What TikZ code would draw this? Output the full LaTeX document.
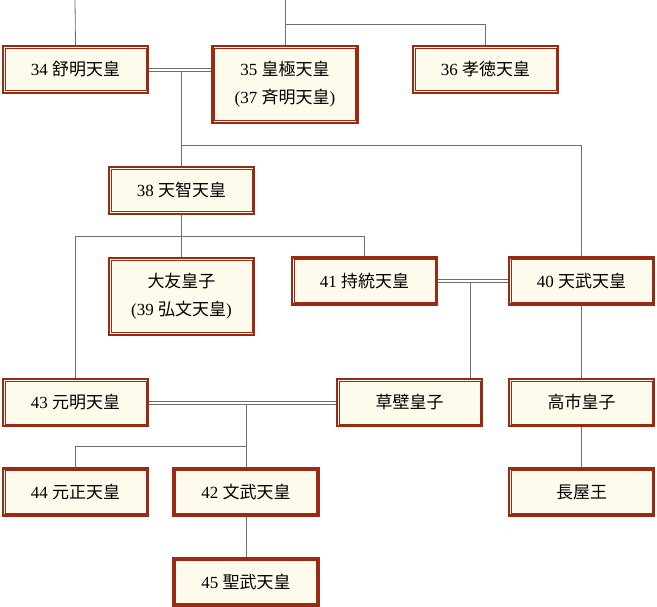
\documentclass[tikz,border=0pt]{standalone}
\usepackage{fontspec}
\setmainfont{Liberation Serif}
\newfontfamily\cjk{Noto Sans CJK JP}
\definecolor{bord}{HTML}{9B2A12}
\definecolor{cream}{HTML}{FFFBEC}
\definecolor{ln}{HTML}{6E6E6E}
\begin{document}
\begin{tikzpicture}[x=1pt,y=-1pt,
  emp/.style={draw=bord,line width=2.4pt,fill=cream,minimum width=145pt,minimum height=47pt,inner sep=0pt,align=center,font=\fontsize{17pt}{28pt}\selectfont},
  tall/.style={minimum height=77pt},
  inner/.style={draw=bord,line width=0.8pt},
  lk/.style={draw=ln,line width=0.8pt}]
\useasboundingbox (0,0) rectangle (657,607);
\coordinate (t1) at (75,0); \coordinate (t2) at (285,0);
\node[emp] (a34) at (75.5,69.5) {34 {\cjk 舒明天皇}};
\node[emp,tall] (a35) at (285,84.5) {35 {\cjk 皇極天皇}\\({37} {\cjk 斉明天皇})};
\node[emp] (a36) at (485.5,69.5) {36 {\cjk 孝徳天皇}};
\node[emp] (a38) at (181.5,190.5) {38 {\cjk 天智天皇}};
\node[emp,tall] (ot) at (181.5,296.5) {{\cjk 大友皇子}\\(39 {\cjk 弘文天皇})};
\node[emp] (a41) at (364.5,281) {41 {\cjk 持統天皇}};
\node[emp] (a40) at (581.5,281) {40 {\cjk 天武天皇}};
\node[emp] (a43) at (75.5,402.5) {43 {\cjk 元明天皇}};
\node[emp] (ku) at (409.5,402.5) {{\cjk 草壁皇子}};
\node[emp] (ta) at (581.5,402.5) {{\cjk 高市皇子}};
\node[emp] (a44) at (75.5,492) {44 {\cjk 元正天皇}};
\node[emp] (a42) at (246,492) {42 {\cjk 文武天皇}};
\node[emp] (na) at (581.5,492) {{\cjk 長屋王}};
\node[emp] (a45) at (246,582) {45 {\cjk 聖武天皇}};
\foreach \n in {a34,a35,a36,a38,ot,a41,a40,a43,ku,ta,a44,a42,na,a45}
  \draw[inner] ([shift={(3.3pt,-3.3pt)}]\n.north west) rectangle ([shift={(-3.3pt,3.3pt)}]\n.south east);
% lines
\draw[lk] (t1) -- (a34.north);
\draw[lk] (t2) -- (t2 |- a35.north);
\draw[lk] (285,24) -| (a36.north);
\draw[lk] ([yshift=-1.5pt]a34.east) -- ([yshift=-1.5pt]a34.east -| a35.west);
\draw[lk] ([yshift=1.5pt]a34.east) -- ([yshift=1.5pt]a34.east -| a35.west);
\draw[lk] (181.5,71) -- (a38.north);
\draw[lk] (181.5,145) -| (a40.north);
\draw[lk] (a38.south) -- (ot.north);
\draw[lk] (75.5,236) -| (a41.north);
\draw[lk] (75.5,236) -- (a43.north);
\draw[lk] ([yshift=-1.5pt]a41.east) -- ([yshift=-1.5pt]a40.west);
\draw[lk] ([yshift=1.5pt]a41.east) -- ([yshift=1.5pt]a40.west);
\draw[lk] (470,282.5) -- (470,378);
\draw[lk] ([yshift=-1.5pt]a43.east) -- ([yshift=-1.5pt]ku.west);
\draw[lk] ([yshift=1.5pt]a43.east) -- ([yshift=1.5pt]ku.west);
\draw[lk] (246,404) -- (a42.north);
\draw[lk] (246,446) -| (a44.north);
\draw[lk] (a42.south) -- (a45.north);
\draw[lk] (a40.south) -- (ta.north);
\draw[lk] (ta.south) -- (na.north);
\end{tikzpicture}
\end{document}
